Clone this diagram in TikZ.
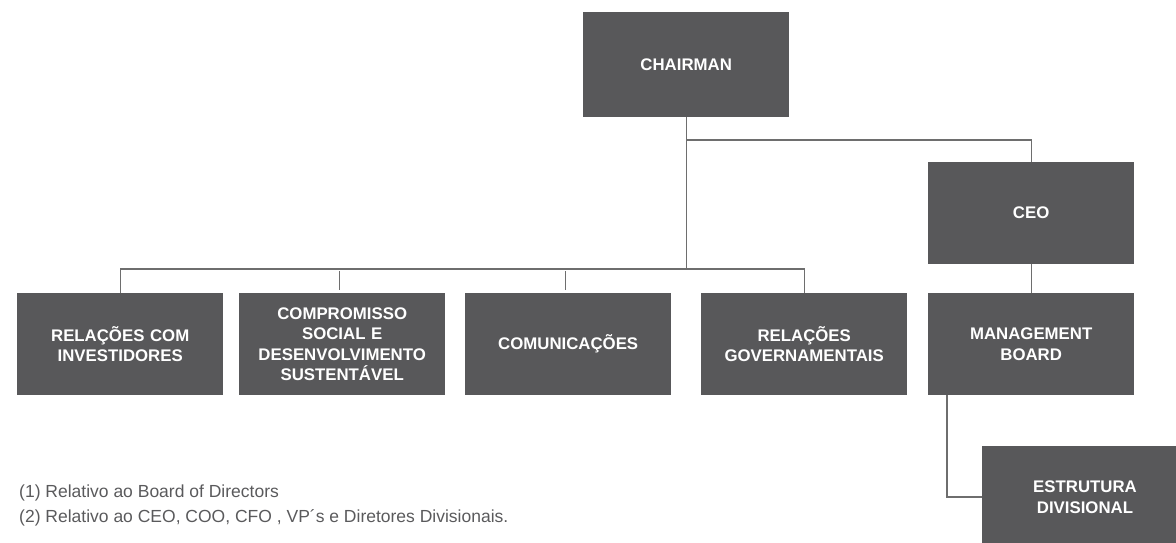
\documentclass[tikz,border=0pt]{standalone}
\usepackage{fontspec}
\setmainfont{Liberation Sans}
\usepackage{xcolor}
\usetikzlibrary{matrix,calc}
\definecolor{boxgray}{HTML}{58585A}
\definecolor{linegray}{HTML}{6E6E6E}
\definecolor{notegray}{HTML}{5A5A5C}

\begin{document}
\begin{tikzpicture}[x=1pt,y=-1pt,
  unit/.style={fill=boxgray,text=white,inner sep=0pt,minimum width=206pt,minimum height=102pt,
    text width=198pt,align=center,font=\fontsize{16.8}{20.5}\selectfont\bfseries},
  link/.style={draw=linegray,line width=1.2pt},
  note/.style={anchor=west,inner sep=0pt,text=notegray,font=\fontsize{17.5}{21}\selectfont}]
  \useasboundingbox (0,0) rectangle (1176,542);
  \matrix (m) [matrix of nodes,anchor=north west,inner sep=0pt,row sep=29pt,column sep=16pt,nodes={unit,anchor=center}] at (17,162)
  {
    & &[4pt] &[14pt] &[5pt] CEO \\
    {RELAÇÕES COM\\INVESTIDORES} & {COMPROMISSO\\SOCIAL E\\DESENVOLVIMENTO\\SUSTENTÁVEL} &[4pt] COMUNICAÇÕES
      &[14pt] {RELAÇÕES\\GOVERNAMENTAIS} &[5pt] {MANAGEMENT\\BOARD} \\
  };
  \coordinate (mid) at ($(m-2-3)!.5!(m-2-4)$);
  \node[unit,minimum height=105pt] (chair) at (mid |- 0,64.5) {CHAIRMAN};
  \node[unit] (estr) at (1085,497) {ESTRUTURA\\DIVISIONAL};
  \coordinate (bus) at (0,269);
  \coordinate (fork) at (0,140);
  \draw[link] (chair.south) -- (chair.south |- bus);
  \draw[link] (m-2-1.north) |- (m-2-4.north |- bus) -- (m-2-4.north);
  \draw[link] ([xshift=-3pt]m-2-2.north |- 0,271) -- ([xshift=-3pt,yshift=3pt]m-2-2.north);
  \draw[link] ([xshift=-3pt]m-2-3.north |- 0,271) -- ([xshift=-3pt,yshift=3pt]m-2-3.north);
  \draw[link] (chair.south |- fork) -| (m-1-5.north);
  \draw[link] (m-1-5.south) -- (m-2-5.north);
  \draw[link] ([xshift=19pt]m-2-5.south west) |- (estr.west);
  \node[note] (note1) at (19,493) {(1) Relativo ao Board of Directors};
  \node[note] (note2) at (19,518) {(2) Relativo ao CEO, COO, CFO , VP´s e Diretores Divisionais.};
\end{tikzpicture}
\end{document}
